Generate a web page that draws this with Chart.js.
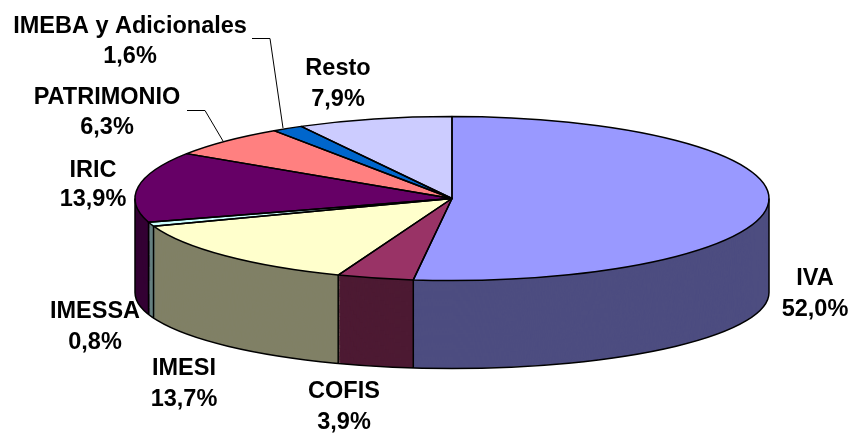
<!DOCTYPE html>
<html>
<head>
<meta charset="utf-8">
<style>
  html, body { margin: 0; padding: 0; background: #fff; overflow: hidden; }
  canvas { display: block; }
</style>
<script src="https://cdn.jsdelivr.net/npm/chart.js@4/dist/chart.umd.min.js"></script>
</head>
<body>
<canvas id="pie" width="854" height="434"></canvas>
<script>
var categories = ["IVA", "COFIS", "IMESI", "IMESSA", "IRIC", "PATRIMONIO", "IMEBA y Adicionales", "Resto"];
var shares = [52.0, 3.9, 13.7, 0.8, 13.9, 6.3, 1.6, 7.9];

var topColors = ["#9999FF", "#993366", "#FFFFCC", "#CCFFFF", "#660066", "#FF8080", "#0066CC", "#CCCCFF"];
var sideColors = ["#4D4D80", "#4D1A33", "#808066", "#668080", "#330033", "#804040", "#003366", "#666680"];

// where the text goes, centre x and the baseline of both rows
var labelSpots = [
	[815, 285, 316],
	[344, 398, 429],
	[184, 375, 406],
	[95, 318, 349],
	[93, 177, 206],
	[107, 104, 134],
	[130, 33, 63],
	[338, 75, 106]
];
// leader lines, only two labels have one
var leaders = {
	5: [[187, 110.5], [205, 110.5], [223, 141]],
	6: [[252, 38.5], [270, 38.5], [283, 128]]
};

// tilted disc
var cx = 452, cy = 198.5, rx = 317, ry = 82;
var depth = 94, bottomRy = 76;

function discTransform(ctx, arc, d) {
	var k = d / depth;
	ctx.translate(cx, cy + d);
	ctx.scale(rx / arc.outerRadius, (ry + (bottomRy - ry) * k) / arc.outerRadius);
	ctx.translate(-arc.x, -arc.y);
}

var tiltedPie = {
	id: "tiltedPie",
	beforeDatasetsDraw: function (chart) {
		var ctx = chart.ctx;
		var arcs = chart.getDatasetMeta(0).data;

		// side wall: stacked copies of the slices, bottom one first
		for (var d = depth; d >= 1; d--) {
			arcs.forEach(function (arc, i) {
				var keep = arc.options;
				arc.options = Object.assign({}, keep, { backgroundColor: sideColors[i] });
				ctx.save();
				discTransform(ctx, arc, d);
				arc.draw(ctx);
				ctx.restore();
				arc.options = keep;
			});
		}

		// top face
		arcs.forEach(function (arc) {
			ctx.save();
			discTransform(ctx, arc, 0);
			arc.draw(ctx);
			ctx.restore();
		});

		ctx.save();
		ctx.strokeStyle = "#000";
		ctx.lineWidth = 1.5;
		ctx.lineJoin = "round";

		// wall outline
		ctx.beginPath();
		ctx.ellipse(cx, cy + depth, rx, bottomRy, 0, 0, Math.PI);
		ctx.moveTo(cx - rx, cy);
		ctx.lineTo(cx - rx, cy + depth);
		ctx.moveTo(cx + rx, cy);
		ctx.lineTo(cx + rx, cy + depth);
		arcs.forEach(function (arc) {
			var a = arc.endAngle;
			if (Math.sin(a) > 0) {
				var x = cx + rx * Math.cos(a);
				ctx.moveTo(x, cy + ry * Math.sin(a));
				ctx.lineTo(x, cy + depth + bottomRy * Math.sin(a));
			}
		});
		ctx.stroke();

		// slice outlines
		arcs.forEach(function (arc) {
			ctx.save();
			discTransform(ctx, arc, 0);
			ctx.beginPath();
			ctx.moveTo(arc.x, arc.y);
			ctx.arc(arc.x, arc.y, arc.outerRadius, arc.startAngle, arc.endAngle);
			ctx.closePath();
			ctx.restore();
			ctx.stroke();
		});
		ctx.restore();
		return false;
	},
	afterDraw: function (chart) {
		var ctx = chart.ctx;
		ctx.save();

		ctx.strokeStyle = "#000";
		ctx.lineWidth = 1;
		Object.keys(leaders).forEach(function (key) {
			ctx.beginPath();
			leaders[key].forEach(function (p, i) {
				if (i === 0) ctx.moveTo(p[0], p[1]);
				else ctx.lineTo(p[0], p[1]);
			});
			ctx.stroke();
		});

		ctx.fillStyle = "#000";
		ctx.font = "bold 23.5px 'Liberation Sans', Arial, sans-serif";
		ctx.textAlign = "center";
		ctx.textBaseline = "alphabetic";
		categories.forEach(function (name, i) {
			var spot = labelSpots[i];
			ctx.fillText(name, spot[0], spot[1]);
			ctx.fillText(shares[i].toFixed(1).replace(".", ",") + "%", spot[0], spot[2]);
		});
		ctx.restore();
	}
};

var myPie = new Chart(document.getElementById("pie").getContext("2d"), {
	type: "pie",
	data: {
		labels: categories,
		datasets: [{
			data: shares,
			backgroundColor: topColors,
			borderWidth: 0
		}]
	},
	options: {
		responsive: false,
		animation: false,
		layout: { padding: 0 },
		plugins: {
			legend: { display: false },
			tooltip: { enabled: false }
		}
	},
	plugins: [tiltedPie]
});
</script>
</body>
</html>
